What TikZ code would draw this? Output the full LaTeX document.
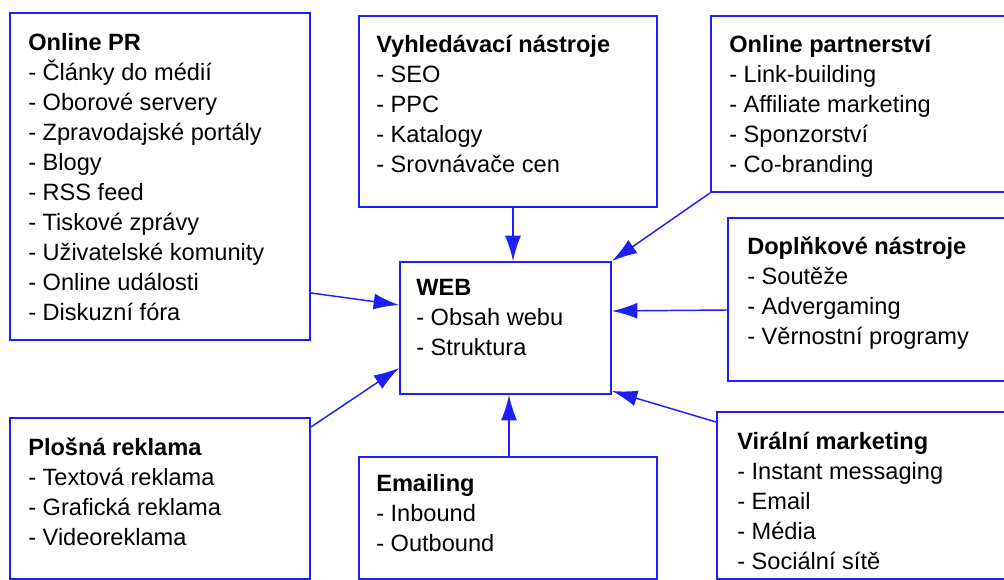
\documentclass[tikz,border=0pt]{standalone}
\usepackage{fontspec}
\setmainfont{Liberation Sans}
\usepackage{xcolor}
\usepackage{tikz}
\usetikzlibrary{arrows.meta, positioning, fit}
\definecolor{webblue}{RGB}{30,30,250}
\tikzstyle{box} = [
    draw=webblue,
    line width=1.5pt,
    inner sep=0pt
]
\tikzstyle{txt} = [
    anchor=north west,
    inner sep=0pt,
    align=left,
    font=\fontsize{17.7}{22.5}\selectfont
]
\tikzstyle{arrow} = [
    draw=webblue,
    line width=1.1pt,
    -{Latex[length=19pt,width=12pt]}
]

\begin{document}
\begin{tikzpicture}[x=0.75pt,y=-0.75pt]

\useasboundingbox (0,0) rectangle (1004,580);
\clip (0,0) rectangle (1004,580);

\node[box, fit={(10,13) (310,340)}] (pr) {};

\node[box, fit={(359,16) (657,207)}] (vyh) {};

\node[box, fit={(711,16) (1012,192)}] (part) {};

\node[box, fit={(728,218) (1012,381)}] (dopl) {};

\node[box, fit={(400,262) (611,394)}] (web) {};

\node[box, fit={(10,418) (310,579)}] (plos) {};

\node[box, fit={(359,457) (657,579)}] (email) {};

\node[box, fit={(717,412) (1012,579)}] (vir) {};

\node[txt] (prtext) at (28,33.5) {\textbf{Online PR}\\- Články do médií\\- Oborové servery\\- Zpravodajské portály\\- Blogy\\- RSS feed\\- Tiskové zprávy\\- Uživatelské komunity\\- Online události\\- Diskuzní fóra};

\node[txt] (vyhtext) at (376,35) {\textbf{Vyhledávací nástroje}\\- SEO\\- PPC\\- Katalogy\\- Srovnávače cen};

\node[txt] (parttext) at (729,34.5) {\textbf{Online partnerství}\\- Link-building\\- Affiliate marketing\\- Sponzorství\\- Co-branding};

\node[txt] (dopltext) at (747,236.5) {\textbf{Doplňkové nástroje}\\- Soutěže\\- Advergaming\\- Věrnostní programy};

\node[txt] (webtext) at (416,279.5) {\textbf{WEB}\\- Obsah webu\\- Struktura};

\node[txt] (plostext) at (28,437.5) {\textbf{Plošná reklama}\\- Textová reklama\\- Grafická reklama\\- Videoreklama};

\node[txt] (emailtext) at (376,474.5) {\textbf{Emailing}\\- Inbound\\- Outbound};

\node[txt] (virtext) at (737,431.5) {\textbf{Virální marketing}\\- Instant messaging\\- Email\\- Média\\- Sociální sítě};

\draw[arrow] ([shift={(0,116.5)}]pr.east) -- ([shift={(0,-23)}]web.west);

\draw[arrow] ([shift={(0,-71.5)}]plos.east) -- ([shift={(0,40)}]web.west);

\draw[arrow] ([shift={(5,0)}]vyh.south) -- ([shift={(7.5,0)}]web.north);

\draw[arrow] (part.south west) -- (web.north east);

\draw[arrow] ([shift={(0,10.5)}]dopl.west) -- ([shift={(0,-17)}]web.east);

\draw[arrow] ([shift={(0,11)}]vir.north west) -- ([shift={(0,-4)}]web.south east);

\draw[arrow] ([shift={(1,0)}]email.north) -- ([shift={(3.5,0)}]web.south);

\end{tikzpicture}
\end{document}
